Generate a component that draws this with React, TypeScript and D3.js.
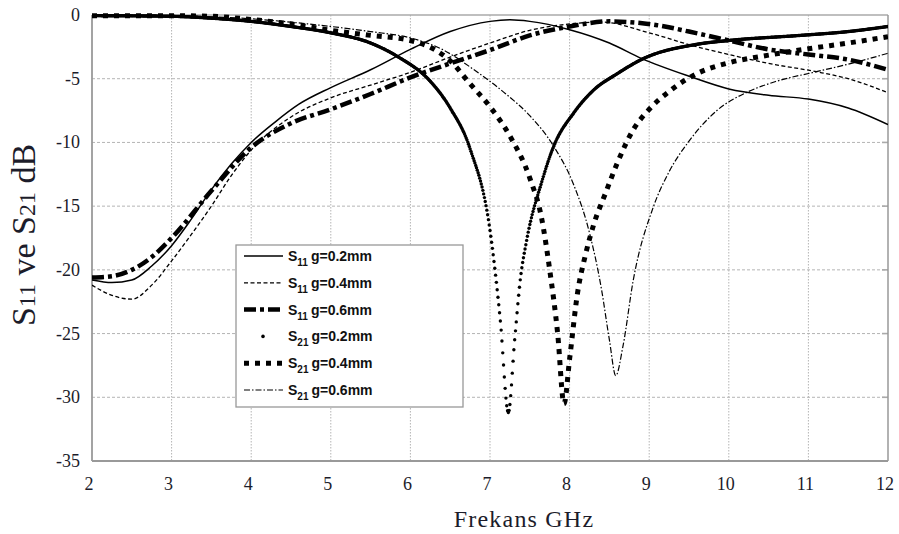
import { useEffect, useRef } from "react"
import * as d3 from "d3"

// frequency (GHz) / level (dB) pairs
const xTicks = [2, 3, 4, 5, 6, 7, 8, 9, 10, 11, 12]
const yTicks = [0, -5, -10, -15, -20, -25, -30, -35]

const s11g02: [number, number][] = [
  [2, -20.8], [2.25, -21.0], [2.5, -20.8], [2.75, -19.7], [3, -18.1], [3.25, -16.0], [3.5, -13.7],
  [3.75, -11.7], [4, -10.0], [4.3, -8.4], [4.6, -7.0], [5, -5.7], [5.5, -4.3], [6, -2.7],
  [6.5, -1.3], [7, -0.5], [7.25, -0.38], [7.5, -0.5], [8, -1.15], [8.5, -2.2], [8.9, -3.4],
  [9.5, -4.8], [10, -5.8], [10.5, -6.3], [11, -6.6], [11.5, -7.3], [12, -8.6],
]
const s11g04: [number, number][] = [
  [2, -21.2], [2.25, -22.0], [2.5, -22.3], [2.75, -21.2], [3, -19.3], [3.25, -17.2], [3.5, -15.0],
  [3.75, -12.6], [4, -10.6], [4.5, -8.0], [5, -6.5], [5.5, -5.5], [6, -4.5], [6.5, -3.3],
  [7, -2.2], [7.5, -1.2], [8, -0.7], [8.4, -0.55], [9, -1.4], [9.6, -2.5], [10, -3.1],
  [10.5, -3.8], [11.1, -4.45], [11.5, -5.0], [12, -6.1],
]
const s11g06: [number, number][] = [
  [2, -20.6], [2.25, -20.5], [2.5, -20.0], [2.75, -19.0], [3, -17.5], [3.5, -13.8], [4, -10.4],
  [4.5, -8.5], [5, -7.4], [5.5, -6.2], [6, -4.9], [6.5, -3.8], [7, -2.75], [7.5, -1.6],
  [8, -0.9], [8.5, -0.5], [9.1, -0.8], [9.5, -1.3], [10, -2.0], [10.5, -2.7], [11, -3.1],
  [11.5, -3.5], [12, -4.3],
]
const s21g02: [number, number][] = [
  [2, -0.05], [3, -0.1], [3.5, -0.25], [4, -0.5], [4.5, -0.9], [5, -1.4], [5.5, -2.2],
  [5.85, -3.3], [6.25, -5.2], [6.5, -7.3], [6.75, -10.5], [7.0, -16.9], [7.13, -24.0],
  [7.23, -31.2], [7.31, -25.5], [7.38, -20.8], [7.46, -17.7], [7.65, -13.1], [7.8, -10.3],
  [8.05, -7.7], [8.3, -5.9], [8.6, -4.6], [8.9, -3.5], [9.6, -2.3], [10, -2.0], [10.9, -1.6],
  [11.5, -1.3], [12, -0.9],
]
const s21g04: [number, number][] = [
  [2, -0.05], [3, -0.05], [3.5, -0.1], [4, -0.35], [4.5, -0.7], [5, -1.2], [5.5, -1.6],
  [6, -2.0], [6.3, -2.7], [6.5, -3.6], [6.75, -5.4], [7, -7.2], [7.25, -9.5], [7.5, -12.8],
  [7.65, -16.0], [7.75, -20.0], [7.85, -25.0], [7.93, -30.5], [8.0, -27.0], [8.1, -21.8],
  [8.2, -18.8], [8.3, -16.5], [8.45, -14.0], [8.6, -11.6], [8.8, -9.0], [9.0, -7.4],
  [9.25, -6.0], [9.6, -4.6], [10, -3.75], [10.5, -3.15], [11, -2.65], [11.5, -2.2], [12, -1.7],
]
const s21g06: [number, number][] = [
  [2, 0], [3, -0.05], [4, -0.3], [5, -0.9], [5.5, -1.3], [6, -1.8], [6.4, -2.7], [6.8, -4.3],
  [7.2, -6.2], [7.5, -7.9], [7.8, -10.3], [8.05, -13.3], [8.25, -17.1], [8.4, -21.5],
  [8.5, -25.5], [8.58, -28.3], [8.67, -26.0], [8.8, -20.8], [9.05, -15.1], [9.25, -12.3],
  [9.5, -9.9], [9.85, -7.5], [10.25, -6.0], [10.6, -5.2], [11.1, -4.45], [11.6, -3.7], [12, -3.0],
]

const series = [
  { data: s11g02, sub: "11", gap: "g=0.2mm", width: 1.5, dash: null, dots: false },
  { data: s11g04, sub: "11", gap: "g=0.4mm", width: 1.3, dash: "4 2.5", dots: false },
  { data: s11g06, sub: "11", gap: "g=0.6mm", width: 4.5, dash: "12 4 4 4", dots: false },
  { data: s21g02, sub: "21", gap: "g=0.2mm", width: 3.4, dash: null, dots: true },
  { data: s21g04, sub: "21", gap: "g=0.4mm", width: 5, dash: "5 6", dots: false },
  { data: s21g06, sub: "21", gap: "g=0.6mm", width: 1.2, dash: "6 2 1.5 2", dots: false },
]

const serif = "'Liberation Serif', 'Times New Roman', serif"
const sans = "'Liberation Sans', Arial, sans-serif"

export default function App() {
  const svgRef = useRef<SVGSVGElement>(null)

  useEffect(() => {
    document.body.style.margin = "0"
    if (!svgRef.current) return
    const svg = d3.select(svgRef.current)
    svg.selectAll("*").remove()

    const x = d3.scaleLinear().domain([2, 12]).range([92, 888])
    const y = d3.scaleLinear().domain([-35, 0]).range([461, 15])

    svg.append("rect").attr("width", 899).attr("height", 534).attr("fill", "#fff")

    svg.append("defs").append("clipPath").attr("id", "plot-clip")
      .append("rect").attr("x", x(2)).attr("y", y(0) - 4).attr("width", x(12) - x(2)).attr("height", y(-35) - y(0) + 4)

    // grid
    const grid = svg.append("g")
    grid.selectAll("line.v").data(xTicks.slice(1, -1)).enter().append("line")
      .attr("x1", (d) => x(d)).attr("x2", (d) => x(d))
      .attr("y1", y(0)).attr("y2", y(-35))
      .attr("stroke", "#b4b4b4").attr("stroke-width", 1).attr("stroke-dasharray", "1.5 1.5")
    grid.selectAll("line.h").data(yTicks.slice(1, -1)).enter().append("line")
      .attr("x1", x(2)).attr("x2", x(12))
      .attr("y1", (d) => y(d)).attr("y2", (d) => y(d))
      .attr("stroke", "#b4b4b4").attr("stroke-width", 1).attr("stroke-dasharray", "3 2")
    // small ticks on right side
    grid.selectAll("line.rt").data(yTicks.slice(1, -1)).enter().append("line")
      .attr("x1", x(12) - 6).attr("x2", x(12))
      .attr("y1", (d) => y(d)).attr("y2", (d) => y(d))
      .attr("stroke", "#aaa").attr("stroke-width", 1.6)

    // frame
    svg.append("line").attr("x1", x(2)).attr("x2", x(12)).attr("y1", y(0)).attr("y2", y(0))
      .attr("stroke", "#aaa").attr("stroke-width", 1.5)
    svg.append("line").attr("x1", x(12)).attr("x2", x(12)).attr("y1", y(0)).attr("y2", y(-35))
      .attr("stroke", "#999").attr("stroke-width", 1.5)
    svg.append("line").attr("x1", x(2)).attr("x2", x(2)).attr("y1", y(0)).attr("y2", y(-35))
      .attr("stroke", "#999").attr("stroke-width", 1.8)
    svg.append("line").attr("x1", x(2)).attr("x2", x(12)).attr("y1", y(-35)).attr("y2", y(-35))
      .attr("stroke", "#999").attr("stroke-width", 1.8)

    // tick labels
    svg.append("g").selectAll("text").data(yTicks).enter().append("text")
      .attr("x", 80).attr("y", (d) => y(d) + 6)
      .attr("text-anchor", "end").attr("font-family", serif).attr("font-size", 18).attr("fill", "#1c1c2a")
      .text((d) => String(d))
    svg.append("g").selectAll("text").data(xTicks).enter().append("text")
      .attr("x", (d) => x(d) - 3).attr("y", 490)
      .attr("text-anchor", "middle").attr("font-family", serif).attr("font-size", 18).attr("fill", "#1c1c2a")
      .text((d) => String(d))

    // axis titles
    svg.append("text").attr("x", 524).attr("y", 527).attr("text-anchor", "middle")
      .attr("font-family", serif).attr("font-size", 24).attr("letter-spacing", 1.2).attr("fill", "#1c1c2a")
      .text("Frekans GHz")
    const yt = svg.append("text").attr("x", 0).attr("y", 0)
      .attr("transform", "translate(35,235) rotate(-90)")
      .attr("text-anchor", "middle").attr("font-family", serif).attr("font-size", 34).attr("fill", "#1c1c2a")
    yt.append("tspan").text("S")
    yt.append("tspan").attr("font-size", 24).text("11")
    yt.append("tspan").text(" ve S")
    yt.append("tspan").attr("font-size", 24).text("21")
    yt.append("tspan").text(" dB")

    // curves
    const line = d3.line<[number, number]>()
      .x((d) => x(d[0])).y((d) => y(d[1]))
      .curve(d3.curveMonotoneX)
    const plot = svg.append("g").attr("clip-path", "url(#plot-clip)")
    series.forEach((s) => {
      const p = plot.append("path").attr("d", line(s.data) || "")
        .attr("fill", "none")
      if (s.dots) {
        p.attr("stroke", "none")
        const node = p.node() as SVGPathElement
        const total = node.getTotalLength()
        const step = x(2.01) - x(2)
        let nextX = x(2)
        const pts: { x: number; y: number }[] = []
        for (let l = 0; l <= total; l += 0.2) {
          const pt = node.getPointAtLength(l)
          if (pt.x >= nextX) {
            pts.push({ x: pt.x, y: pt.y })
            nextX += step
          }
        }
        plot.append("g").selectAll("circle").data(pts).enter().append("circle")
          .attr("cx", (d) => d.x).attr("cy", (d) => d.y).attr("r", s.width / 2).attr("fill", "#000")
      } else {
        p.attr("stroke", "#000").attr("stroke-width", s.width)
        if (s.dash) p.attr("stroke-dasharray", s.dash)
      }
    })

    // legend
    const lg = svg.append("g")
    lg.append("rect").attr("x", 236).attr("y", 245).attr("width", 227).attr("height", 162)
      .attr("fill", "#fff").attr("stroke", "#999").attr("stroke-width", 1.3)
    series.forEach((s, i) => {
      const cy = 256 + i * 26.8
      if (s.dots) {
        lg.append("circle").attr("cx", 263).attr("cy", cy).attr("r", 1.8).attr("fill", "#000")
      } else {
        const l = lg.append("line").attr("x1", 244).attr("x2", 283).attr("y1", cy).attr("y2", cy)
          .attr("stroke", "#000").attr("stroke-width", s.width)
        if (s.dash) l.attr("stroke-dasharray", s.dash)
      }
      const t = lg.append("text").attr("x", 288).attr("y", cy + 5)
        .attr("font-family", sans).attr("font-weight", "bold").attr("font-size", 14).attr("fill", "#111")
      t.append("tspan").text("S")
      t.append("tspan").attr("font-size", 10).attr("dy", 5).text(s.sub)
      t.append("tspan").attr("dy", -5).attr("dx", 3).text(s.gap)
    })
  }, [])

  return <svg ref={svgRef} width={899} height={534} style={{ display: "block" }} />
}
